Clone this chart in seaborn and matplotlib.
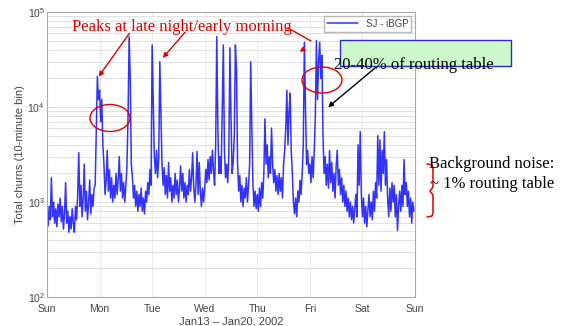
import pandas as pd
import matplotlib
matplotlib.use("Agg")
import matplotlib.pyplot as plt
from matplotlib.lines import Line2D
from matplotlib.patches import Ellipse, Rectangle
import seaborn as sns

# total churns per 30-minute step, one list per day
sun = [800, 560, 900, 650, 1800, 700, 1000, 600, 850, 550, 950, 700,
       1100, 620, 900, 520, 750, 1600, 600, 800, 480, 700, 520, 850,
       600, 480, 900, 650, 1200, 3300, 900, 1500, 700, 1100, 2500, 800,
       1300, 650, 1000, 1700, 750, 1200, 900, 1400, 1500, 6000, 21000, 12000]
mon = [15000, 7000, 12000, 4000, 2500, 1200, 1700, 3500, 1300, 2200, 1100, 1800,
       1000, 1500, 1100, 2000, 1200, 1700, 3000, 1300, 2000, 1100, 1600, 1000,
       1500, 2400, 8000, 55000, 20000, 2500, 1800, 1100, 1500, 900, 1300, 800,
       1200, 900, 1400, 800, 1100, 750, 1300, 1000, 1600, 1200, 2200, 1500]
tue = [45000, 12000, 3000, 2000, 3500, 1800, 2800, 30000, 9000, 2500, 1500, 2300,
       1200, 1900, 1100, 2600, 1300, 1800, 1000, 1500, 1100, 2000, 1200, 1700,
       1000, 1400, 2400, 1300, 2000, 1100, 1600, 1000, 1500, 1200, 2200, 1300,
       1800, 3300, 1400, 1000, 1500, 3400, 1200, 2600, 1300, 900, 1400, 1000]
wed = [1400, 2200, 1600, 2800, 1700, 3000, 2000, 3500, 2200, 1500, 4000, 55000,
       6000, 2000, 3000, 2000, 10000, 45000, 3500, 1800, 2500, 1600, 3000, 42000,
       8000, 2000, 2600, 5000, 45000, 25000, 2500, 1300, 1900, 1000, 1500, 900,
       1400, 1100, 1800, 1000, 1500, 2500, 30000, 6000, 1600, 900, 1300, 850]
thu = [1200, 800, 1400, 900, 1600, 1100, 2000, 7500, 2500, 4000, 1800, 3000,
       2000, 6000, 2500, 1600, 2200, 1300, 1900, 1200, 2000, 1300, 1800, 1100,
       2500, 3500, 6000, 15000, 4000, 9000, 14000, 3500, 2000, 1000, 750, 1100,
       700, 1300, 1000, 1700, 1200, 2000, 4000, 48000, 10000, 2500, 3500, 2000]
fri = [2500, 1600, 3000, 1800, 3500, 8000, 50000, 12000, 30000, 48000, 20000, 35000,
       5000, 2000, 3000, 1500, 2500, 1400, 3500, 1600, 2600, 1300, 2000, 1100,
       2400, 3500, 1500, 2200, 1200, 1800, 1000, 1500, 900, 1300, 800, 1100,
       700, 1000, 650, 900, 600, 850, 1200, 700, 4000, 1500, 5500, 1200]
sat = [700, 1100, 600, 900, 550, 800, 1200, 700, 1000, 650, 1300, 800,
       1600, 1100, 5000, 1500, 4500, 1300, 3500, 2000, 5500, 1500, 2800, 1100,
       700, 1400, 800, 1600, 1000, 1500, 700, 1200, 500, 900, 1300, 800,
       1500, 900, 2800, 1200, 1600, 900, 1300, 700, 1100, 600, 1000, 800]

day_labels = ["Sun", "Mon", "Tue", "Wed", "Thu", "Fri", "Sat", "Sun"]
series_name = "SJ - iBGP"

churns = sun + mon + tue + wed + thu + fri + sat
times = pd.date_range("2002-01-13", periods=len(churns), freq="30min")
df = pd.DataFrame({"time": times, "churns": churns, "series": series_name})

sns.set_style("whitegrid")
plt.rcParams["font.family"] = ["Liberation Sans", "DejaVu Sans"]

W, H = 564, 326


def px(x, y):
    # picture pixels (top-left origin) -> figure fraction
    return (x / W, 1 - y / H)


fig = plt.figure(figsize=(W / 100, H / 100), dpi=100)
ax = fig.add_axes([47 / W, 1 - 297 / H, (415 - 47) / W, (297 - 12) / H])

sns.lineplot(data=df, x="time", y="churns", hue="series", palette=["#0000ff"],
             estimator=None, lw=1.1, alpha=0.8, ax=ax)

ax.set_yscale("log")
ax.set_ylim(1e2, 1e5)
ticks = pd.date_range("2002-01-13", periods=len(day_labels), freq="D")
ax.set_xlim(ticks[0], ticks[-1])
ax.set_xticks(ticks)
ax.set_xticklabels(day_labels)

ax.grid(True, which="both", axis="y", color="#dcdcdc", lw=0.6)
ax.grid(True, which="major", axis="x", color="#e8e8e8", lw=0.6)
ax.tick_params(which="both", direction="in", length=2.5, labelsize=7.5,
               labelcolor="#444444", color="#999999", pad=1.5)
ax.tick_params(axis="x", pad=5)
for s in ax.spines.values():
    s.set_color("#aaaaaa")
    s.set_linewidth(0.8)

ax.set_ylabel("Total churns (10-minute bin)", fontsize=8, color="#444444", labelpad=2)
ax.set_xlabel("Jan13 \u2013 Jan20, 2002", fontsize=8, color="#444444", labelpad=1.5)

handles, labels = ax.get_legend_handles_labels()
ax.legend(handles, labels, loc="upper right", fontsize=7, frameon=True,
          fancybox=False, edgecolor="#aaaaaa", handlelength=3.2,
          borderaxespad=0.4, borderpad=0.3, labelcolor="#444444")

serif = ["Liberation Serif", "DejaVu Serif"]
red = "#e00000"

# red annotations
fig.text(*px(182, 27), "Peaks at late night/early morning", color=red,
         family=serif, fontsize=12, ha="center", va="center")
arrow_red = dict(arrowstyle="-|>", color=red, lw=1, mutation_scale=7)
ax.annotate("", xy=px(97, 79), xytext=px(131, 31), xycoords="figure fraction",
            textcoords="figure fraction", arrowprops=arrow_red, annotation_clip=False)
ax.annotate("", xy=px(161, 60), xytext=px(187, 30), xycoords="figure fraction",
            textcoords="figure fraction", arrowprops=arrow_red, annotation_clip=False)
fig.add_artist(Line2D([px(288, 28)[0], px(311, 41)[0]], [px(288, 28)[1], px(311, 41)[1]],
                      transform=fig.transFigure, color=red, lw=1))
ax.annotate("", xy=px(297, 53), xytext=px(304, 49), xycoords="figure fraction",
            textcoords="figure fraction", arrowprops=arrow_red, annotation_clip=False)

fig.add_artist(Ellipse(px(110, 118), 40 / W, 27 / H, transform=fig.transFigure,
                       fill=False, ec=red, lw=1))
fig.add_artist(Ellipse(px(322, 80), 40 / W, 26 / H, transform=fig.transFigure,
                       fill=False, ec=red, lw=1))

# green box and its note
fig.add_artist(Rectangle(px(340, 66), 171 / W, 26 / H, transform=fig.transFigure,
                         fc="#ccf8cc", ec="#2a2acc", lw=1))
fig.text(*px(334, 65), "20-40% of routing table", color="black", family=serif,
         fontsize=12, ha="left", va="center")
ax.annotate("", xy=px(326, 109), xytext=px(381, 63), xycoords="figure fraction",
            textcoords="figure fraction",
            arrowprops=dict(arrowstyle="-|>", color="black", lw=1, mutation_scale=7),
            annotation_clip=False)

# background noise note with brace
brace = [(427, 164), (432, 165), (433, 169), (433, 187), (430, 191), (433, 195),
         (433, 213), (432, 216), (427, 217)]
fig.add_artist(Line2D([px(x, y)[0] for x, y in brace], [px(x, y)[1] for x, y in brace],
                      transform=fig.transFigure, color=red, lw=1.1))
fig.text(*px(429, 164), "Background noise:", color="black", family=serif,
         fontsize=12, ha="left", va="center")
fig.text(*px(430, 184), "~ 1% routing table", color="black", family=serif,
         fontsize=12, ha="left", va="center")

fig.savefig("out.png", dpi=100)
